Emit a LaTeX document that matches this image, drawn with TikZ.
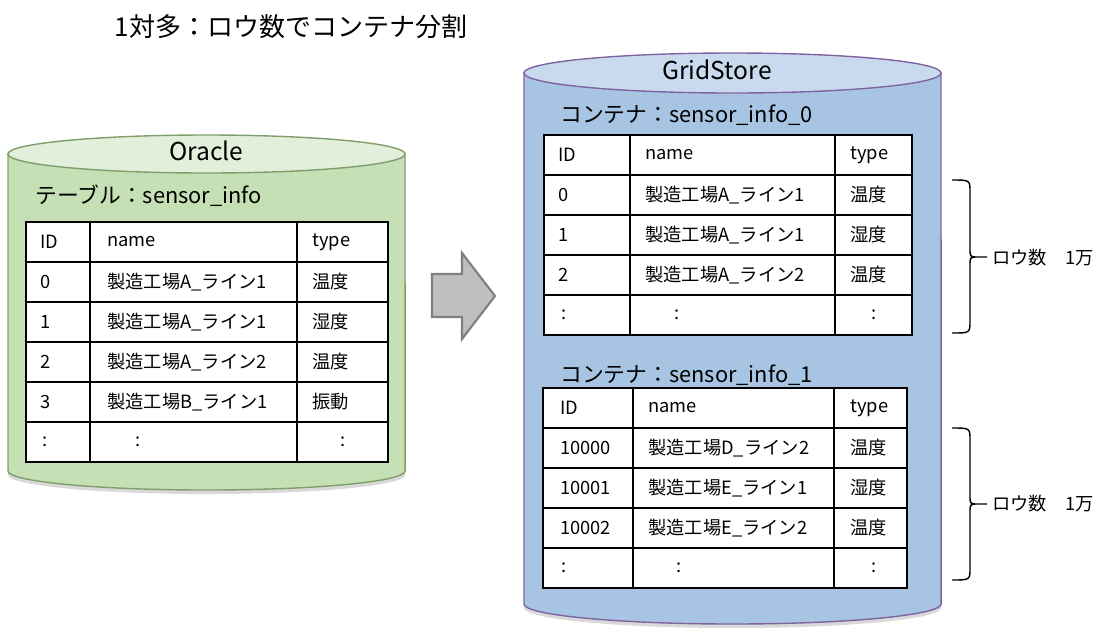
\documentclass[tikz,border=0pt]{standalone}
\usepackage{fontspec}
\setmainfont{Noto Sans CJK JP}
\usepackage{tikz}
\usetikzlibrary{calc}
\definecolor{oraclebody}{RGB}{197,224,180}
\definecolor{oracletop}{RGB}{226,239,218}
\definecolor{oracleline}{RGB}{128,158,108}
\definecolor{gridbody}{RGB}{167,196,226}
\definecolor{gridtop}{RGB}{202,218,238}
\definecolor{gridline}{RGB}{128,100,162}
\definecolor{arrowfill}{RGB}{191,191,191}
\definecolor{arrowline}{RGB}{127,127,127}
\tikzstyle{cell} = [anchor=west, inner sep=0pt, font=\fontsize{13pt}{15pt}\selectfont]
\tikzstyle{tabline} = [draw=black, line width=1.3pt]
\tikzstyle{caption} = [anchor=west, inner sep=0pt, font=\fontsize{15.5pt}{18pt}\selectfont]
\tikzstyle{dbname} = [inner sep=0pt, font=\fontsize{17.5pt}{20pt}\selectfont]
\tikzstyle{brace} = [draw=black, line width=1pt]

\begin{document}
\begin{tikzpicture}[x=0.025cm, y=-0.025cm]
\useasboundingbox (0,0) rectangle (1117,634);
\node[inner sep=0pt, font=\fontsize{18.5pt}{21pt}\selectfont] (title) at (291,27) {1対多：ロウ数でコンテナ分割};
% Oracle
\fill[black, opacity=0.15] (8,158) -- (8,475) arc (180:360:4.9625cm and 0.475cm) -- (405,158) -- cycle;
\path[draw=oracleline, fill=oraclebody, line width=1pt] (8,154) -- (8,471) arc (180:360:4.9625cm and 0.475cm) -- (405,154) -- cycle;
\draw[oracleline, fill=oracletop, line width=1pt] (206.5,154) ellipse [x radius=4.9625cm, y radius=0.475cm];
\node[dbname] (oracle) at (206.5,151) {Oracle};
\node[caption] (table) at (35,196) {テーブル：sensor\_info};
\fill[white] (26,222) rectangle (388,462);
\draw[tabline] (26,222) rectangle (388,462);
\foreach \y in {262,302,342,382,422} \draw[tabline] (26,\y) -- (388,\y);
\draw[tabline] (90,222) -- (90,462);
\draw[tabline] (297,222) -- (297,462);
\foreach \id/\nm/\ty [count=\i] in {ID/name/type, 0/製造工場A\_ライン1/温度, 1/製造工場A\_ライン1/湿度, 2/製造工場A\_ライン2/温度, 3/製造工場B\_ライン1/振動}{
  \node[cell] (o-id-\i) at (40,202+40*\i) {\id};
  \node[cell] (o-name-\i) at (107,202+40*\i) {\nm};
  \node[cell] (o-type-\i) at (312,202+40*\i) {\ty};
}
\node[cell] (o-dots1) at (42,442) {:};
\node[cell] (o-dots2) at (135,442) {:};
\node[cell] (o-dots3) at (340,442) {:};
% arrow
\draw[arrowline, fill=arrowfill, line width=1.5pt] (432,274) -- (462,274) -- (462,253) -- (495,296) -- (462,339) -- (462,317) -- (432,317) -- cycle;
% GridStore
\fill[black, opacity=0.15] (524,77) -- (524,608) arc (180:360:5.2125cm and 0.5cm) -- (941,77) -- cycle;
\path[draw=gridline, fill=gridbody, line width=1pt] (524,73) -- (524,604) arc (180:360:5.2125cm and 0.5cm) -- (941,73) -- cycle;
\draw[gridline, fill=gridtop, line width=1pt] (732.5,73) ellipse [x radius=5.2125cm, y radius=0.5cm];
\node[dbname] (gridstore) at (717,70) {GridStore};
\node[caption] (cont0) at (560,115) {コンテナ：sensor\_info\_0};
\fill[white] (544,135) rectangle (912,335);
\draw[tabline] (544,135) rectangle (912,335);
\foreach \y in {175,215,255,295} \draw[tabline] (544,\y) -- (912,\y);
\draw[tabline] (630,135) -- (630,335);
\draw[tabline] (835,135) -- (835,335);
\foreach \id/\nm/\ty [count=\i] in {ID/name/type, 0/製造工場A\_ライン1/温度, 1/製造工場A\_ライン1/湿度, 2/製造工場A\_ライン2/温度}{
  \node[cell] (a-id-\i) at (558,115+40*\i) {\id};
  \node[cell] (a-name-\i) at (645,115+40*\i) {\nm};
  \node[cell] (a-type-\i) at (850,115+40*\i) {\ty};
}
\node[cell] (a-dots1) at (561,315) {:};
\node[cell] (a-dots2) at (674,315) {:};
\node[cell] (a-dots3) at (871,315) {:};
\node[caption] (cont1) at (560,375) {コンテナ：sensor\_info\_1};
\fill[white] (543,388) rectangle (907,588);
\draw[tabline] (543,388) rectangle (907,588);
\foreach \y in {428,468,508,548} \draw[tabline] (543,\y) -- (907,\y);
\draw[tabline] (633,388) -- (633,588);
\draw[tabline] (834,388) -- (834,588);
\foreach \id/\nm/\ty [count=\i] in {ID/name/type, 10000/製造工場D\_ライン2/温度, 10001/製造工場E\_ライン1/湿度, 10002/製造工場E\_ライン2/温度}{
  \node[cell] (b-id-\i) at (560,368+40*\i) {\id};
  \node[cell] (b-name-\i) at (648,368+40*\i) {\nm};
  \node[cell] (b-type-\i) at (850,368+40*\i) {\ty};
}
\node[cell] (b-dots1) at (561,568) {:};
\node[cell] (b-dots2) at (676,568) {:};
\node[cell] (b-dots3) at (871,568) {:};
% braces
\draw[brace] (952,180) .. controls (970,180) .. (970,192) -- (970,248) .. controls (970,257) .. (978,257) -- (987,257) -- (978,257) .. controls (970,257) .. (970,266) -- (970,321) .. controls (970,333) .. (952,333);
\node[cell] (rows0) at (992,258) {ロウ数　1万};
\draw[brace] (952,428) .. controls (970,428) .. (970,440) -- (970,495) .. controls (970,504) .. (978,504) -- (987,504) -- (978,504) .. controls (970,504) .. (970,513) -- (970,568) .. controls (970,580) .. (952,580);
\node[cell] (rows1) at (992,504) {ロウ数　1万};
\end{tikzpicture}
\end{document}
